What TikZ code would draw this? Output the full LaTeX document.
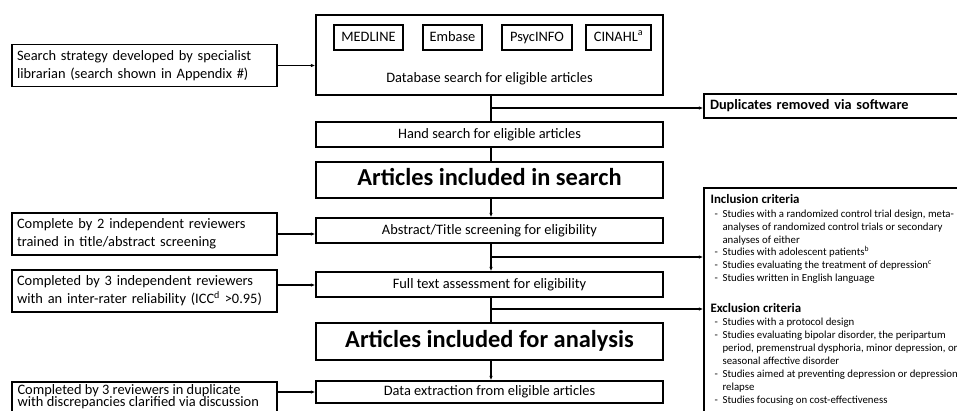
\documentclass[tikz,border=0pt]{standalone}
\usepackage{fontspec}
\setmainfont{Carlito}
\usetikzlibrary{arrows.meta}
\begin{document}
\begin{tikzpicture}[x=1pt,y=-1pt,
  line width=1.1pt,
  box/.style={draw, line width=1.3pt, inner sep=0pt, minimum width=347pt, text height=10pt, text depth=3pt, font=\fontsize{14.4}{16}\selectfont},
  smallbox/.style={draw, line width=1.3pt, inner sep=0pt, minimum height=25pt, text height=10pt, text depth=3pt, font=\fontsize{14.4}{16}\selectfont},
  sidebox/.style={draw, line width=1.3pt, inner xsep=5pt, inner ysep=0pt, minimum width=265pt, minimum height=42pt,
     text width=255pt, align=left, font=\fontsize{14.4}{18}\selectfont},
  bigbox/.style={box, text height=16pt, text depth=5pt, font=\fontsize{24.4}{28}\selectfont\bfseries},
  arr/.style={-{Latex[length=4.5pt,width=3.5pt]}},
  crit/.style={anchor=west, inner sep=0pt, text height=7.5pt, text depth=2pt, font=\fontsize{10.8}{13}\selectfont},
  crithead/.style={anchor=west, inner sep=0pt, text height=9pt, text depth=2.5pt, font=\fontsize{12.9}{14}\selectfont\bfseries},
]
\useasboundingbox (0,0) rectangle (957,410);

% trunk x
\coordinate (tx) at (491,0);

% left boxes
\node[sidebox] (search) at (144.5,65.5) {Search strategy developed by specialist\\librarian (search shown in Appendix \#)};
\node[sidebox] (comp2) at (144.5,234) {Complete by 2 independent reviewers\\trained in title/abstract screening};
\node[sidebox] (comp3) at (144.5,291) {Completed by 3 independent reviewers\\with an inter-rater reliability (ICC\textsuperscript{d} >0.95)};
\node[draw, line width=1.3pt, minimum width=265pt, minimum height=46pt, inner sep=0pt] (comp3d) at (144.5,405) {};
\node[anchor=north west, inner sep=0pt, align=left, font=\fontsize{14.4}{12.8}\selectfont] (comp3dt) at (17,383.5)
  {Completed by 3 reviewers in duplicate\\with discrepancies clarified via discussion};

% database box
\node[box, minimum height=80pt] (db) at (489.5,55) {};
\node[smallbox, minimum width=69pt] (medline) at (368.5,37.5) {MEDLINE};
\node[smallbox, minimum width=59pt] (embase) at (452.5,37.5) {Embase};
\node[smallbox, minimum width=70pt] (psyc) at (537,37.5) {PsycINFO};
\node[smallbox, minimum width=65pt] (cinahl) at (618.5,37.5) {CINAHL\textsuperscript{a}};
\node[inner sep=0pt, text height=10pt, text depth=3pt, font=\fontsize{14.4}{16}\selectfont] (dbt) at (489.5,79) {Database search for eligible articles};

% main column
\node[box, minimum height=25pt] (hand) at (489.5,134.5) {Hand search for eligible articles};
\node[bigbox, minimum height=36pt] (ais) at (489.5,180) {Articles included in search};
\node[box, minimum height=25pt] (abs) at (489.5,230.5) {Abstract/Title screening for eligibility};
\node[box, minimum height=25pt] (full) at (489.5,284.5) {Full text assessment for eligibility};
\node[bigbox, minimum height=37pt] (aia) at (489.5,341.5) {Articles included for analysis};
\node[box, minimum height=22pt] (data) at (489.5,392) {Data extraction from eligible articles};

% right boxes
\node[draw, line width=1.3pt, minimum width=256pt, minimum height=24pt, inner xsep=6pt, inner ysep=0pt,
  text width=244pt, align=left, text height=10pt, text depth=3pt, font=\fontsize{14.3}{16}\selectfont\bfseries] (dup) at (832,106) {Duplicates removed via software};
\node[draw, line width=1.3pt, minimum width=256pt, minimum height=240pt, inner sep=0pt] (critbox) at (832,308) {};

% criteria text
\node[crithead] (inh) at (710,200) {Inclusion criteria};
\foreach \y/\d/\t in {215/-/{Studies with a randomized control trial design, meta-},
                      227.7//{analyses of randomized control trials or secondary},
                      240.3//{analyses of either},
                      253/-/{Studies with adolescent patients\textsuperscript{b}},
                      266/-/{Studies evaluating the treatment of depression\textsuperscript{c}},
                      279/-/{Studies written in English language}}{
  \node[crit] at (714,\y) {\d};
  \node[crit] at (722,\y) {\t};
}
\node[crithead] (exh) at (710,309) {Exclusion criteria};
\foreach \y/\d/\t in {323/-/{Studies with a protocol design},
                      336/-/{Studies evaluating bipolar disorder, the peripartum},
                      349//{period, premenstrual dysphoria, minor depression, or},
                      362//{seasonal affective disorder},
                      375/-/{Studies aimed at preventing depression or depression},
                      388//{relapse},
                      401/-/{Studies focusing on cost-effectiveness}}{
  \node[crit] at (714,\y) {\d};
  \node[crit] at (722,\y) {\t};
}

% connectors: left to main
\draw[arr] (search.east) -- (search.east -| db.west);
\draw[arr] (comp2.east) -- (comp2.east -| abs.west);
\draw[arr] ([yshift=6pt]comp3.east) -- ([yshift=6pt]comp3.east -| full.west);
\draw[arr] (data.west -| comp3d.east) -- (data.west);

% trunk
\draw (db.south -| tx) -- (hand.north -| tx);
\draw (hand.south -| tx) -- (ais.north -| tx);
\draw[arr] (ais.south -| tx) -- (abs.north -| tx);
\draw[arr] (abs.south -| tx) -- (full.north -| tx);
\draw (full.south -| tx) -- (aia.north -| tx);
\draw[arr] (aia.south -| tx) -- (data.north -| tx);

% branches
\coordinate (b1) at (491,108);
\coordinate (b2) at (491,257);
\coordinate (b3) at (491,309);
\draw[arr] (b1) -- (b1 -| dup.west);
\draw[arr] (b2) -- (b2 -| critbox.west);
\draw[arr] (b3) -- (b3 -| critbox.west);
\end{tikzpicture}
\end{document}
